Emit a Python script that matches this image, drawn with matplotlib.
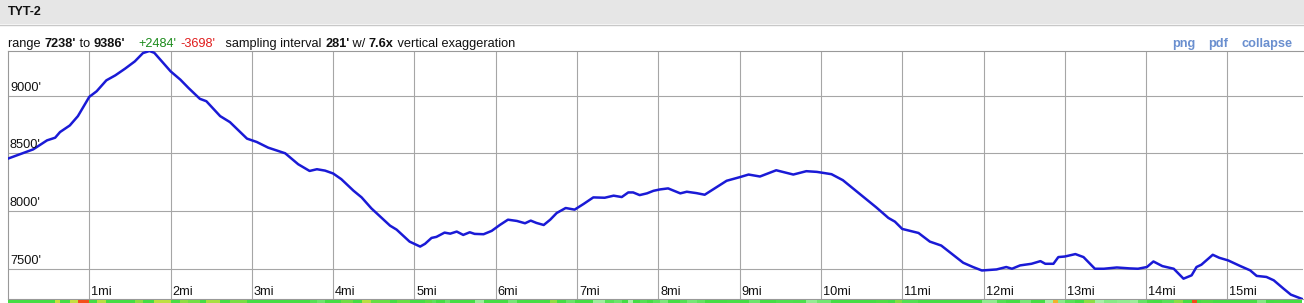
import matplotlib
matplotlib.use("Agg")
import matplotlib.pyplot as plt
import matplotlib.transforms as mtransforms
from matplotlib.colors import LinearSegmentedColormap
import numpy as np

plt.rcParams['font.family'] = ['Liberation Sans', 'DejaVu Sans']

# profile: distance (mi) and elevation (ft)
miles = [0.00, 0.31, 0.48, 0.58, 0.64, 0.76, 0.86, 1.00, 1.09, 1.21, 1.32, 1.44, 1.56, 1.66,
         1.74, 1.80, 1.91, 2.00, 2.12, 2.22, 2.36, 2.44, 2.61, 2.73, 2.94, 3.06, 3.20, 3.41,
         3.57, 3.71, 3.80, 3.90, 4.00, 4.10, 4.25, 4.35, 4.47, 4.70, 4.78, 4.94, 5.07, 5.13,
         5.21, 5.27, 5.37, 5.44, 5.52, 5.60, 5.68, 5.74, 5.85, 5.95, 6.05, 6.15, 6.26, 6.36,
         6.43, 6.50, 6.59, 6.67, 6.75, 6.86, 6.97, 7.08, 7.20, 7.34, 7.45, 7.55, 7.63, 7.69,
         7.77, 7.86, 7.94, 8.02, 8.12, 8.27, 8.35, 8.47, 8.57, 8.68, 8.84, 9.00, 9.11, 9.25,
         9.45, 9.66, 9.82, 9.95, 10.13, 10.27, 10.48, 10.68, 10.83, 10.91, 11.00, 11.20, 11.34,
         11.48, 11.61, 11.75, 11.87, 11.98, 12.16, 12.28, 12.35, 12.45, 12.59, 12.70, 12.76,
         12.86, 12.92, 13.00, 13.13, 13.23, 13.37, 13.48, 13.64, 13.80, 13.90, 14.01, 14.09,
         14.20, 14.34, 14.46, 14.56, 14.62, 14.68, 14.82, 14.90, 15.01, 15.16, 15.28, 15.36,
         15.48, 15.57, 15.69, 15.78, 15.92]
elev = [8454, 8534, 8612, 8635, 8684, 8741, 8822, 8989, 9037, 9132, 9175, 9233, 9296, 9368,
        9386, 9370, 9282, 9210, 9138, 9066, 8972, 8951, 8822, 8770, 8627, 8598, 8549, 8500,
        8405, 8347, 8362, 8350, 8325, 8276, 8176, 8118, 8023, 7873, 7839, 7735, 7692, 7716,
        7767, 7776, 7813, 7804, 7822, 7793, 7816, 7802, 7799, 7828, 7879, 7925, 7914, 7894,
        7917, 7897, 7879, 7925, 7983, 8026, 8012, 8061, 8118, 8115, 8133, 8121, 8161, 8161,
        8138, 8153, 8175, 8187, 8196, 8153, 8167, 8155, 8141, 8190, 8262, 8293, 8316, 8299,
        8353, 8316, 8345, 8339, 8319, 8267, 8147, 8032, 7940, 7908, 7845, 7810, 7735,
        7701, 7629, 7552, 7515, 7485, 7494, 7515, 7500, 7529, 7543, 7566, 7543,
        7543, 7601, 7606, 7627, 7601, 7500, 7500, 7511, 7503, 7500, 7515, 7563,
        7523, 7500, 7414, 7443, 7515, 7535, 7621, 7595, 7572, 7523, 7486, 7438,
        7429, 7400, 7328, 7276, 7238]

elev_ticks = [7500, 8000, 8500, 9000]
mile_ticks = list(range(1, 16))
elev_min, elev_max = 7238, 9386

W, H = 1304, 303
fig = plt.figure(figsize=(W / 100, H / 100), dpi=100)
fig.patch.set_facecolor('white')

# header bar
fig.patches.append(plt.Rectangle((0, 1 - 24 / H), 1, 24 / H, transform=fig.transFigure,
                                 facecolor='#e6e6e6', edgecolor='none'))
fig.lines.append(plt.Line2D([0, 1], [1 - 24.5 / H] * 2, transform=fig.transFigure,
                            color='#c8c8c8', lw=1))
fig.text(8 / W, 1 - 12 / H, 'TYT-2', fontsize=9, weight='bold', va='center', color='#111')

# stats line, pieced together segment by segment
fs = 9.2
renderer = fig.canvas.get_renderer()
parts = [("range ", '#111', 'normal'), ("7238'", '#111', 'bold'), (" to ", '#111', 'normal'),
         ("9386'", '#111', 'bold'), ("    ", '#111', 'normal'), ("+2484'", '#1a8a1a', 'normal'),
         (" ", '#111', 'normal'), ("-3698'", '#e01b1b', 'normal'),
         ("   sampling interval ", '#111', 'normal'), ("281'", '#111', 'bold'),
         (" w/ ", '#111', 'normal'), ("7.6x", '#111', 'bold'),
         (" vertical exaggeration", '#111', 'normal')]
xpix = 8
for s, c, w in parts:
    t = fig.text(xpix / W, 1 - 44 / H, s, fontsize=fs, color=c, weight=w, va='center')
    xpix += t.get_window_extent(renderer).width

for s, xp in [('png', 1172), ('pdf', 1208), ('collapse', 1241)]:
    fig.text(xp / W, 1 - 44 / H, s, fontsize=fs, color='#6a8fcf', weight='bold', va='center')

# profile axes
ax = fig.add_axes([8 / W, 4 / H, 1295 / W, 248 / H])
ax.plot(miles, elev, color='#1a1ad6', lw=1.8, solid_joinstyle='round',
        solid_capstyle='round', zorder=3)
ax.set_xlim(0, 15.93)
ax.set_ylim(elev_min, elev_max)
for v in elev_ticks:
    ax.axhline(v, color='#a6a6a6', lw=0.8, zorder=1)
for m in mile_ticks:
    ax.axvline(m, color='#a6a6a6', lw=0.8, zorder=1)
ax.set_xticks([])
ax.set_yticks([])
for sp in ax.spines.values():
    sp.set_color('#999999')
    sp.set_linewidth(0.8)
ax.spines['right'].set_visible(False)

ylab_tr = mtransforms.offset_copy(ax.transData, fig=fig, x=2, y=2, units='dots')
for v in elev_ticks:
    ax.text(0, v, f"{v}'", fontsize=fs, color='#111', va='bottom', ha='left',
            transform=ylab_tr)
xlab_tr = mtransforms.offset_copy(ax.get_xaxis_transform(), fig=fig, x=2, y=1, units='dots')
for m in mile_ticks:
    ax.text(m, 0, f"{m}mi", fontsize=fs, color='#111', va='bottom', ha='left',
            transform=xlab_tr)

# grade strip under the profile
grade_cmap = LinearSegmentedColormap.from_list(
    'grade', [(0, '#a8f0a8'), (0.15, '#44dd44'), (0.45, '#44dd44'), (0.65, '#e0e040'),
              (0.8, '#ff8c1a'), (1, '#e81818')])
strip = fig.add_axes([8 / W, 0, 1295 / W, 3.5 / H])
m_arr = np.array(miles)
e_arr = np.array(elev)
grade = np.abs(np.diff(e_arr)) / (np.diff(m_arr) * 5280)
for i in range(len(grade)):
    strip.axvspan(m_arr[i], m_arr[i + 1], color=grade_cmap(min(grade[i] / 0.25, 1)), lw=0)
strip.set_xlim(0, 15.93)
strip.axis('off')

fig.savefig('out.png', dpi=100)
